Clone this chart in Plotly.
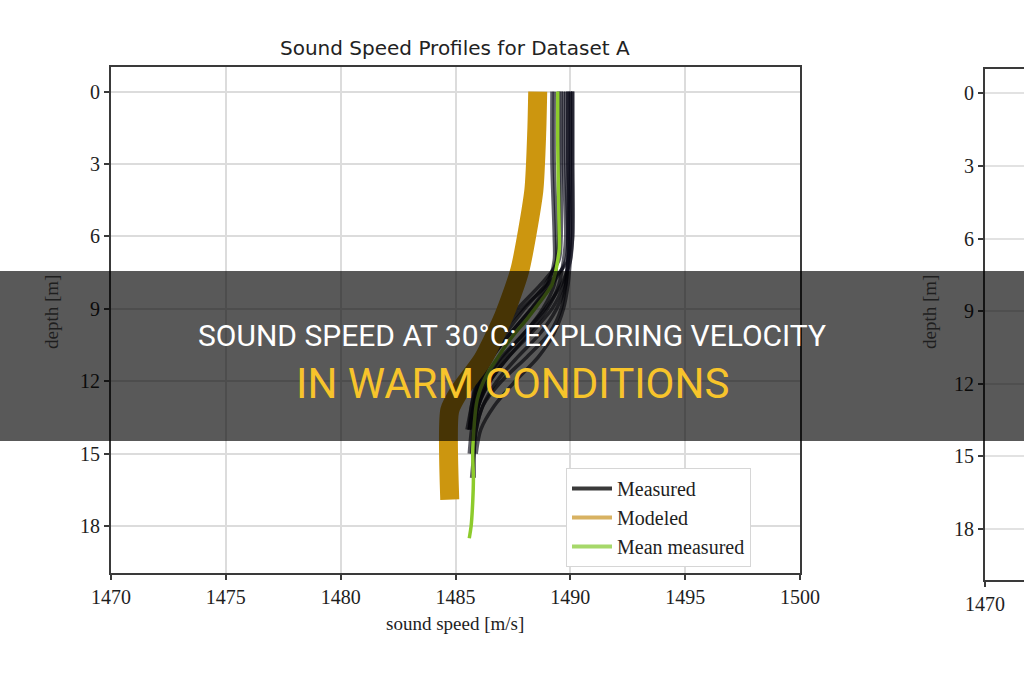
import plotly.graph_objects as go

# ---------------- data ----------------
x_ticks = [1470, 1475, 1480, 1485, 1490, 1495, 1500]
y_ticks = [0, 3, 6, 9, 12, 15, 18]

measured_depth = [0, 3, 6, 7, 8, 9, 10, 11, 12, 13, 14, 15, 16]
prof_01 = [1490.1, 1490.1, 1490.1, 1490.0, 1489.6, 1488.9, 1488.0, 1487.1, 1486.4, 1486.0, 1485.8, 1485.7, None]
prof_02 = [1489.9, 1489.9, 1489.9, 1489.8, 1489.2, 1488.3, 1487.4, 1486.6, 1486.1, 1485.8, 1485.6, None, None]
prof_03 = [1489.7, 1489.7, 1489.8, 1489.7, 1489.5, 1489.0, 1488.2, 1487.3, 1486.5, 1486.0, 1485.8, 1485.8, 1485.8]
prof_04 = [1490.0, 1490.0, 1490.0, 1489.9, 1489.0, 1487.9, 1487.0, 1486.4, 1486.0, 1485.8, 1485.7, None, None]
prof_05 = [1489.3, 1489.3, 1489.4, 1489.4, 1489.3, 1488.8, 1488.0, 1487.0, 1486.3, 1485.9, 1485.7, 1485.6, None]
prof_06 = [1489.8, 1489.8, 1489.9, 1489.9, 1489.8, 1489.6, 1489.1, 1488.1, 1487.0, 1486.2, 1485.9, 1485.8, 1485.7]
prof_07 = [1489.6, 1489.6, 1489.6, 1489.5, 1488.7, 1487.7, 1486.9, 1486.3, 1485.9, 1485.7, 1485.5, None, None]
prof_08 = [1490.0, 1490.0, 1489.9, 1489.9, 1489.7, 1489.2, 1488.3, 1487.3, 1486.5, 1486.0, 1485.8, 1485.8, None]
prof_09 = [1489.2, 1489.2, 1489.3, 1489.3, 1489.0, 1488.3, 1487.4, 1486.6, 1486.1, 1485.8, 1485.6, None, None]
prof_10 = [1489.9, 1489.9, 1490.0, 1489.9, 1489.8, 1489.4, 1488.7, 1487.7, 1486.8, 1486.2, 1485.9, 1485.8, 1485.8]
prof_11 = [1490.1, 1490.1, 1490.1, 1490.0, 1489.9, 1489.7, 1489.3, 1488.6, 1487.6, 1486.7, 1486.1, 1485.9, None]
prof_12 = [1489.5, 1489.5, 1489.5, 1489.4, 1488.9, 1488.0, 1487.2, 1486.5, 1486.0, 1485.7, 1485.6, None, None]
measured_profiles = [prof_01, prof_02, prof_03, prof_04, prof_05, prof_06,
                     prof_07, prof_08, prof_09, prof_10, prof_11, prof_12]

modeled_depth = [0, 1.6, 4.1, 7.4, 9.3, 11.1, 12.4, 13.2, 16.9]
modeled_speed = [1488.58, 1488.54, 1488.41, 1487.80, 1487.10, 1486.18, 1485.18, 1484.75, 1484.75]

mean_depth = [0, 2, 4, 6, 6.5, 7, 7.5, 8, 8.5, 9, 9.5, 10, 10.5, 11, 11.5, 12, 12.5,
              13, 14, 15, 16, 17, 18, 18.5]
mean_speed = [1489.45, 1489.45, 1489.48, 1489.52, 1489.52, 1489.45, 1489.35, 1489.2,
              1488.85, 1488.45, 1488.05, 1487.6, 1487.2, 1486.85, 1486.5, 1486.22,
              1486.02, 1485.9, 1485.8, 1485.75, 1485.78, 1485.75, 1485.68, 1485.6]

legend_names = ["Measured", "Modeled", "Mean measured"]

# ---------------- figure ----------------
W, H = 1024, 680
SERIF = "Liberation Serif, DejaVu Serif, serif"
SANS = "DejaVu Sans, sans-serif"

fig = go.Figure()

for prof in measured_profiles:
    fig.add_trace(go.Scatter(x=prof, y=measured_depth, mode="lines",
                             line=dict(color="rgba(10,10,25,0.65)", width=3.5,
                                       shape="spline", smoothing=0.8),
                             showlegend=False, hoverinfo="skip"))

fig.add_trace(go.Scatter(x=modeled_speed, y=modeled_depth, mode="lines",
                         line=dict(color="#CC960F", width=19, shape="spline", smoothing=0.6),
                         showlegend=False, hoverinfo="skip"))

fig.add_trace(go.Scatter(x=mean_speed, y=mean_depth, mode="lines",
                         line=dict(color="#8DCB2C", width=3.5, shape="spline", smoothing=0.6),
                         showlegend=False, hoverinfo="skip"))

# legend entries
legend_colors = ["#3a3a3a", "#D8B262", "#A6D86A"]
for name, col in zip(legend_names, legend_colors):
    fig.add_trace(go.Scatter(x=[None], y=[None], mode="lines", name=name,
                             line=dict(color=col, width=4)))

# right-hand partial chart (empty axes)
fig.add_trace(go.Scatter(x=[None], y=[None], mode="lines", showlegend=False,
                         xaxis="x2", yaxis="y2"))

axis_common = dict(showline=True, linecolor="#3a3a3a", linewidth=2,
                   ticks="outside", ticklen=5, tickwidth=1.5, tickcolor="#3a3a3a",
                   tickfont=dict(family=SERIF, size=20, color="#1e1e1e"),
                   zeroline=False, automargin=False)

fig.update_layout(
    width=W, height=H,
    margin=dict(l=0, r=0, t=0, b=0, autoexpand=False),
    paper_bgcolor="white", plot_bgcolor="white",
    xaxis=dict(domain=[111 / W, 800 / W], range=[1470, 1500], tickvals=x_ticks,
               showgrid=True, gridcolor="#dcdcdc", gridwidth=2, mirror=True,
               anchor="y", **axis_common),
    yaxis=dict(domain=[1 - 572.7 / H, 1 - 67 / H], range=[19.93, -1.02], tickvals=y_ticks,
               showgrid=True, gridcolor="#dcdcdc", gridwidth=2, mirror=True,
               anchor="x", **axis_common),
    xaxis2=dict(domain=[985 / W, 1.0], range=[1470, 1471.7], tickvals=[1470],
                showgrid=False, mirror=True, anchor="y2", **axis_common),
    yaxis2=dict(domain=[1 - 580 / H, 1 - 69 / H], range=[20.1, -1.0], tickvals=y_ticks,
                showgrid=True, gridcolor="#e2e2e2", gridwidth=1.5, mirror=False,
                anchor="x2", **axis_common),
    legend=dict(x=566 / W, y=1 - 468 / H, xanchor="left", yanchor="top",
                bgcolor="white", bordercolor="#d6d6d6", borderwidth=1,
                font=dict(family=SERIF, size=20, color="#1e1e1e"),
                itemwidth=40),
    showlegend=True,
)

# titles as annotations
fig.add_annotation(x=455 / W, y=1 - 48 / H, xref="paper", yref="paper",
                   xanchor="center", yanchor="middle",
                   text="Sound Speed Profiles for Dataset A", showarrow=False,
                   font=dict(family=SANS, size=20, color="#222"))
fig.add_annotation(x=455 / W, y=1 - 623 / H, xref="paper", yref="paper",
                   xanchor="center", yanchor="middle",
                   text="sound speed [m/s]", showarrow=False,
                   font=dict(family=SERIF, size=19, color="#1e1e1e"))
fig.add_annotation(x=52 / W, y=1 - 312 / H, xref="paper", yref="paper",
                   xanchor="center", yanchor="middle",
                   text="depth [m]", showarrow=False, textangle=-90,
                   font=dict(family=SERIF, size=19, color="#1e1e1e"))
fig.add_annotation(x=930 / W, y=1 - 312 / H, xref="paper", yref="paper",
                   xanchor="center", yanchor="middle",
                   text="depth [m]", showarrow=False, textangle=-90,
                   font=dict(family=SERIF, size=19, color="#1e1e1e"))

# dark banner overlay
fig.add_shape(type="rect", xref="paper", yref="paper", x0=0, x1=1,
              y0=1 - 441 / H, y1=1 - 271 / H, fillcolor="rgba(0,0,0,0.65)",
              line=dict(width=0), layer="above")
fig.add_annotation(x=0.5, y=1 - 335 / H, xref="paper", yref="paper",
                   xanchor="center", yanchor="middle",
                   text="SOUND SPEED AT 30°C: EXPLORING VELOCITY", showarrow=False,
                   font=dict(family="Roboto, sans-serif", size=30, color="white"))
fig.add_annotation(x=0.5, y=1 - 383 / H, xref="paper", yref="paper",
                   xanchor="center", yanchor="middle",
                   text="IN WARM CONDITIONS", showarrow=False,
                   font=dict(family="Roboto, sans-serif", size=42, color="#F7C42B"))

fig.write_html("out.html")
